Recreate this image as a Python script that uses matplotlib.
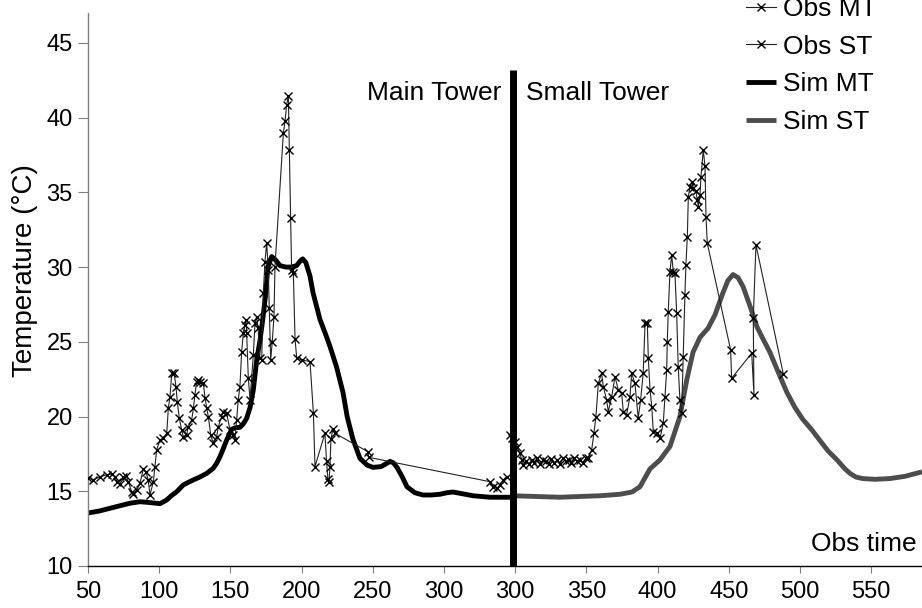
import matplotlib
matplotlib.use("Agg")
import matplotlib.pyplot as plt

plt.rcParams['font.family'] = ['Liberation Sans', 'DejaVu Sans']

# ---------------- data ----------------
tick_positions = [50, 100, 150, 200, 250, 300, 350, 400, 450, 500, 550, 600]
tick_labels = ['50', '100', '150', '200', '250', '300', '300', '350', '400', '450', '500', '550']
st_shift = 50          # small-tower time 300 sits at axis position 350
divider_pos = 348.5

obs_mt_time = [50.2, 53.8, 58.4, 63.1, 66.6, 69.0, 70.1, 72.5, 74.8, 76.7, 78.3, 80.7, 81.8, 84.2,
               86.5, 88.8, 90.7, 92.3, 93.5, 95.9, 97.0, 98.2, 100.6, 102.9, 105.3, 106.4, 107.6,
               108.8, 110.4, 111.8, 112.7, 114.1, 115.8, 116.9, 119.3, 120.4, 122.8, 124.0, 125.1,
               126.3, 127.5, 128.7, 131.0, 132.2, 133.4, 134.5, 136.2, 138.0, 140.4, 141.5, 143.9,
               145.0, 147.4, 149.7, 152.0, 153.2, 154.4, 155.5, 156.7, 157.9, 159.1, 160.3, 161.0,
               161.4, 162.6, 163.8, 166.1, 167.3, 168.5, 169.4, 170.8, 172.0, 173.1, 174.3, 175.5,
               176.6, 177.3, 178.3, 179.4, 180.6, 181.3, 187.2, 188.4, 189.5, 190.7, 191.4, 192.3,
               193.0, 194.2, 195.4, 196.6, 200.1, 205.9, 208.3, 209.4, 216.4, 217.5, 218.5, 219.2,
               219.9, 220.6, 221.9, 223.4, 246.5, 247.2, 332.3, 334.6, 337.0, 339.3, 341.6, 344.0]
obs_mt_temp = [15.87, 15.76, 15.98, 16.09, 16.16, 15.98, 15.64, 15.49, 15.94, 16.02, 15.64, 14.97, 14.82, 15.09,
               15.53, 16.47, 16.31, 15.76, 14.75, 15.64, 16.65, 17.76, 18.43, 18.54, 18.88, 20.55, 21.33,
               22.9, 22.94, 22.0, 21.0, 19.89, 19.1, 18.66, 18.77, 19.32, 19.77, 20.55, 21.45,
               22.34, 22.45, 22.34, 22.23, 21.22, 20.55, 20.0, 18.77, 18.21, 18.66, 19.32, 20.0,
               20.33, 20.22, 19.1, 18.77, 18.43, 19.77, 21.11, 22.0, 24.35, 25.58, 26.13, 26.47,
               25.58, 22.56, 21.11, 24.12, 26.24, 26.69, 25.9, 23.9, 23.8, 28.25, 30.37, 31.64,
               29.8, 27.25, 23.79, 25.0, 26.69, 30.03, 38.96, 39.79, 40.86, 41.46, 37.84, 33.27,
               29.81, 29.59, 25.17, 23.9, 23.79, 23.68, 20.22, 16.65, 18.88, 17.0, 15.8, 15.6,
               16.6, 18.5, 19.14, 18.88, 17.65, 17.27, 15.64, 15.31, 15.2, 15.42, 15.76, 15.98]

obs_st_time = [296.3, 297.5, 299.9, 301.0, 303.4, 304.6, 305.7, 307.5, 309.5, 311.5, 313.5, 315.5,
               317.5, 319.5, 321.5, 323.5, 325.5, 327.5, 329.5, 331.5, 333.5, 335.5, 337.5, 339.5,
               341.5, 343.5, 345.5, 347.5, 349.5, 351.3, 353.7, 355.3, 356.7, 358.4, 360.7, 361.9,
               364.2, 365.4, 367.8, 370.1, 372.4, 374.8, 375.9, 378.2, 380.6, 381.8, 384.1, 386.4,
               388.1, 389.9, 391.2, 392.8, 393.5, 394.7, 395.9, 397.0, 399.4, 401.7, 404.0, 405.2,
               406.4, 406.8, 407.5, 408.7, 409.9, 411.0, 412.2, 413.4, 414.5, 415.7, 416.9, 418.0,
               419.2, 419.9, 420.9, 421.6, 422.8, 424.0, 425.1, 427.0, 427.9, 428.6, 429.8, 430.5,
               432.1, 433.3, 434.0, 434.9, 451.3, 452.0, 466.1, 467.7, 467.2, 469.1, 488.3]
obs_st_temp = [18.77, 18.54, 18.32, 17.99, 17.54, 17.09, 16.76, 17.0, 16.8, 17.1, 16.9, 17.2,
               16.8, 17.1, 17.0, 16.85, 17.15, 16.9, 17.1, 16.8, 17.2, 17.0, 17.1, 16.9,
               17.2, 17.0, 17.1, 16.9, 17.2, 17.2, 17.76, 18.88, 20.0, 22.23, 22.9, 22.0,
               21.11, 20.33, 21.33, 22.67, 21.78, 21.56, 20.33, 20.1, 21.33, 22.9, 22.23, 19.9,
               21.11, 22.9, 26.24, 26.24, 23.9, 21.78, 20.66, 18.99, 18.88, 18.54, 19.55, 21.33,
               23.12, 25.0, 27.0, 29.7, 30.82, 29.7, 29.6, 26.9, 23.34, 21.11, 20.22, 24.0,
               28.14, 30.15, 32.04, 34.72, 35.39, 35.72, 35.28, 35.06, 34.5, 34.05, 34.83, 36.06,
               37.84, 36.73, 33.38, 31.6, 24.46, 22.56, 24.24, 21.45, 26.58, 31.49, 22.85]

sim_mt_time = [50.2, 58.0, 65.4, 72.0, 79.5, 86.5, 93.0, 100.6, 105.3, 108.5, 112.3, 116.9, 120.5,
               124.0, 128.5, 133.4, 138.0, 140.5, 142.7, 145.0, 147.4, 150.9, 153.5, 156.7, 159.0,
               161.4, 163.8, 166.1, 168.5, 170.8, 172.6, 174.3, 176.4, 179.0, 181.5, 184.8, 189.0,
               193.0, 196.5, 199.0, 200.8, 203.0, 205.9, 208.0, 212.9, 216.5, 219.9, 224.6, 229.1,
               232.0, 236.0, 241.0, 246.0, 250.1, 255.8, 259.5, 262.1, 264.5, 267.0, 270.5, 274.0,
               279.6, 285.3, 291.0, 297.2, 302.0, 306.3, 312.0, 320.4, 332.3, 348.5]
sim_mt_temp = [13.55, 13.68, 13.86, 14.02, 14.2, 14.3, 14.25, 14.17, 14.42, 14.7, 14.97, 15.42, 15.6,
               15.76, 15.95, 16.2, 16.54, 16.9, 17.32, 17.85, 18.43, 19.15, 19.25, 19.28, 19.5,
               19.88, 20.6, 21.78, 23.8, 25.1, 26.4, 27.8, 30.0, 30.7, 30.5, 30.1, 30.0,
               30.0, 30.1, 30.4, 30.55, 30.3, 29.4, 28.3, 26.5, 25.6, 24.7, 23.3, 21.6,
               20.0, 18.5, 17.2, 16.75, 16.6, 16.65, 16.85, 17.0, 16.9, 16.6, 16.0, 15.3,
               14.9, 14.75, 14.75, 14.8, 14.9, 14.95, 14.85, 14.7, 14.6, 14.6]

sim_st_time = [298.5, 315.0, 331.5, 345.0, 359.6, 373.6, 382.0, 387.6, 394.7, 401.7, 408.7, 415.7,
               420.6, 424.9, 429.8, 435.4, 440.3, 446.0, 449.4, 453.0, 456.5, 460.0, 464.9, 469.8,
               474.0, 478.9, 484.6, 490.9, 496.5, 502.1, 508.4, 514.0, 519.7, 526.0, 531.6, 535.1,
               539.3, 544.2, 552.7, 563.2, 573.7, 585.7]
sim_st_temp = [14.7, 14.65, 14.6, 14.65, 14.7, 14.8, 14.95, 15.3, 16.5, 17.1, 18.0, 20.0,
               22.5, 24.3, 25.3, 25.9, 26.8, 28.3, 29.1, 29.5, 29.3, 28.7, 27.4, 26.0,
               25.2, 24.3, 23.0, 21.6, 20.6, 19.8, 19.1, 18.4, 17.7, 17.1, 16.5, 16.2,
               15.95, 15.85, 15.8, 15.85, 16.0, 16.3]

# ---------------- figure ----------------
fig = plt.figure(figsize=(9.22, 6.08), dpi=100)
ax = fig.add_axes([88 / 922, 42 / 608, 834 / 922, 553 / 608])

st_pos_obs = [t + st_shift for t in obs_st_time]
st_pos_sim = [t + st_shift for t in sim_st_time]

l_simmt, = ax.plot(sim_mt_time, sim_mt_temp, color='black', lw=3.5, solid_capstyle='butt',
                   solid_joinstyle='round', zorder=2, label='Sim MT')
l_simst, = ax.plot(st_pos_sim, sim_st_temp, color='#4d4d4d', lw=3.5, solid_capstyle='butt',
                   solid_joinstyle='round', zorder=2, label='Sim ST')
l_obsmt, = ax.plot(obs_mt_time, obs_mt_temp, color='#222222', lw=0.8, marker='x', ms=5.5, mew=1.0,
                   mec='black', zorder=3, label='Obs MT')
l_obsst, = ax.plot(st_pos_obs, obs_st_temp, color='#222222', lw=0.8, marker='x', ms=5.5, mew=1.0,
                   mec='black', zorder=3, label='Obs ST')

ax.plot([divider_pos, divider_pos], [10, 43.2], color='black', lw=5, solid_capstyle='butt', zorder=4)

ax.set_xlim(50, 635.7)
ax.set_ylim(10, 47.0)
ax.set_xticks(tick_positions)
ax.set_xticklabels(tick_labels)
ax.set_yticks([10, 15, 20, 25, 30, 35, 40, 45])

for s in ['top', 'right']:
    ax.spines[s].set_visible(False)
ax.spines['left'].set_color('#808080')
ax.spines['bottom'].set_color('black')
ax.spines['left'].set_linewidth(1.0)
ax.spines['bottom'].set_linewidth(1.0)
ax.tick_params(axis='x', direction='out', length=5, color='#808080', labelsize=17, pad=6)
ax.tick_params(axis='y', direction='out', length=7, color='#808080', labelsize=17, pad=4)

fig.text(25 / 922, 1 - 271 / 608, 'Temperature (°C)', rotation=90, ha='center', va='center', fontsize=20)

ax.text(divider_pos - 8, 41.66, 'Main Tower', ha='right', va='center', fontsize=19)
ax.text(divider_pos + 9, 41.66, 'Small Tower', ha='left', va='center', fontsize=19)
ax.text(632, 11.5, 'Obs time', ha='right', va='center', fontsize=19)

leg = fig.legend(handles=[l_obsmt, l_obsst, l_simmt, l_simst], loc='upper left',
                 bbox_to_anchor=(746 / 922, 1 + 3 / 608), frameon=False, fontsize=19,
                 handlelength=1.15, handletextpad=0.25, labelspacing=0.52, borderpad=0,
                 borderaxespad=0, markerscale=1.0)

fig.savefig('out.png', dpi=100)
